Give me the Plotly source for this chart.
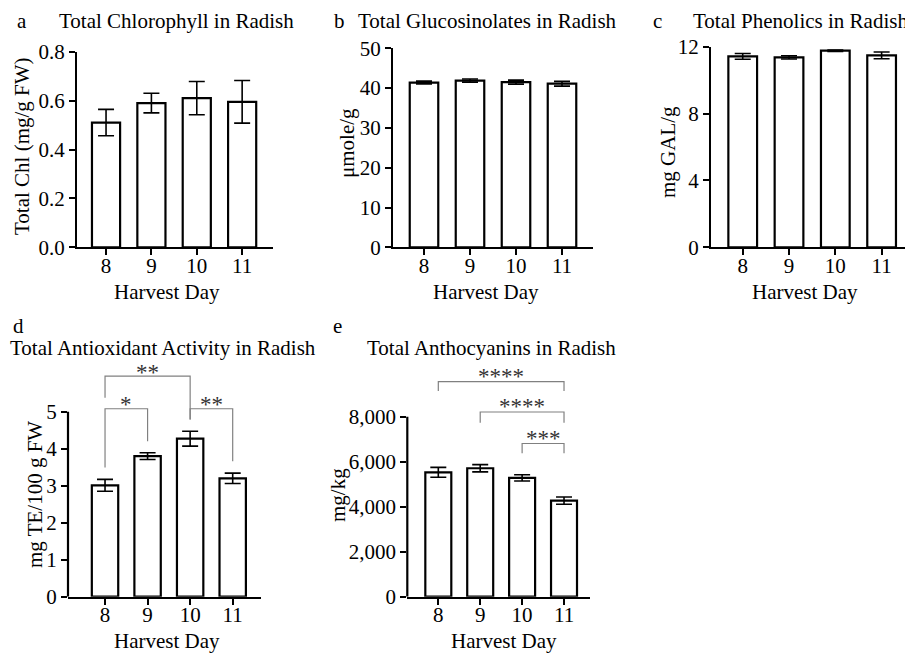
import plotly.graph_objects as go

# ---------------- data ----------------
days = ["8", "9", "10", "11"]
xpos = [0, 1, 2, 3]

chl = [0.51, 0.59, 0.61, 0.595]
chl_err = [0.054, 0.04, 0.068, 0.087]

gluc = [41.4, 41.9, 41.5, 41.1]
gluc_err = [0.35, 0.4, 0.5, 0.6]

phen = [11.42, 11.36, 11.76, 11.48]
phen_err = [0.17, 0.1, 0.04, 0.2]

antiox = [3.01, 3.80, 4.27, 3.20]
antiox_err = [0.16, 0.09, 0.2, 0.14]

antho = [5530, 5710, 5280, 4270]
antho_err = [220, 160, 140, 160]

antiox_sig = [(0, 2, "**"), (0, 1, "*"), (2, 3, "**")]
antho_sig = [(0, 3, "****"), (1, 3, "****"), (2, 3, "***")]

# ---------------- layout helpers ----------------
W, H = 905, 654
FONT = "Liberation Serif"
FS = 21


def px(x):
    return x / W


def py(y):
    return 1 - y / H


panels = [
    dict(v=chl, e=chl_err, xd=(77, 273), xr=(-0.64, 3.68), yd=(51.7, 247.3), yr=(0, 0.8),
         yt=[0, 0.2, 0.4, 0.6, 0.8], fmt=".1f", line=True),
    dict(v=gluc, e=gluc_err, xd=(393, 593), xr=(-0.674, 3.674), yd=(48.3, 247.3), yr=(0, 50),
         yt=[0, 10, 20, 30, 40, 50], fmt="d", line=True),
    dict(v=phen, e=phen_err, xd=(711, 905), xr=(-0.685, 3.505), yd=(46.7, 247.3), yr=(0, 12),
         yt=[0, 4, 8, 12], fmt="d", line=True),
    dict(v=antiox, e=antiox_err, xd=(68, 261), xr=(-0.87, 3.665), yd=(367.3, 596.7), yr=(0, 6.2),
         yt=[0, 1, 2, 3, 4, 5], fmt="d", line=False),
    dict(v=antho, e=antho_err, xd=(407.3, 590), xr=(-0.74, 3.62), yd=(371.7, 596.7), yr=(0, 10000),
         yt=[0, 2000, 4000, 6000, 8000], fmt=",", line=False),
]

fig = go.Figure()
layout = dict(
    width=W, height=H, autosize=False,
    margin=dict(l=0, r=0, t=0, b=0, pad=0, autoexpand=False),
    paper_bgcolor="white", plot_bgcolor="white",
    showlegend=False,
    font=dict(family=FONT, size=FS, color="black"),
)
shapes = []

for i, p in enumerate(panels):
    n = "" if i == 0 else str(i + 1)
    fig.add_trace(go.Bar(
        x=xpos, y=p["v"], width=0.62,
        marker=dict(color="white", line=dict(color="black", width=2.2)),
        error_y=dict(type="data", array=p["e"], color="black", thickness=1.6, width=8),
        xaxis="x" + n, yaxis="y" + n,
    ))
    layout["xaxis" + n] = dict(
        domain=[px(p["xd"][0]), min(px(p["xd"][1]), 1)], range=list(p["xr"]),
        anchor="y" + n, tickvals=xpos, ticktext=days, ticks="outside", ticklen=6,
        tickwidth=2, tickcolor="black", showline=True, linewidth=2.2, linecolor="black",
        showgrid=False, zeroline=False, tickfont=dict(family=FONT, size=FS, color="black"),
        ticklabelstandoff=-8, automargin=False, fixedrange=True,
    )
    layout["yaxis" + n] = dict(
        domain=[py(p["yd"][1]), py(p["yd"][0])], range=list(p["yr"]),
        anchor="x" + n, tickvals=p["yt"], tickformat=p["fmt"], ticks="outside", ticklen=6,
        tickwidth=2, tickcolor="black", showline=p["line"], linewidth=2.2, linecolor="black",
        showgrid=False, zeroline=False, tickfont=dict(family=FONT, size=FS, color="black"),
        automargin=False, fixedrange=True,
    )
    if not p["line"]:
        shapes.append(dict(type="line", xref="x" + n + " domain", yref="y" + n,
                           x0=0, x1=0, y0=0, y1=p["yt"][-1],
                           line=dict(color="black", width=2.2)))

annotations = []


def add_brackets(sig, n, geom, tshift):
    for (a, b, lab), (lvl, lb, rb) in zip(sig, geom):
        shapes.append(dict(type="path", xref="x" + n, yref="y" + n,
                           path=f"M {a},{lb} L {a},{lvl} L {b},{lvl} L {b},{rb}",
                           line=dict(color="#808080", width=1.2)))
        annotations.append(dict(x=(a + b) / 2, y=lvl, xref="x" + n, yref="y" + n, text=lab,
                                showarrow=False, xanchor="center", yanchor="middle", yshift=tshift,
                                font=dict(family=FONT, size=23, color="#333333")))


add_brackets(antiox_sig, "4", [(5.96, 5.38, 4.79), (5.08, 3.49, 4.2), (5.08, 4.79, 3.66)], 4)
add_brackets(antho_sig, "5", [(9556, 9142, 9142), (8209, 7733, 7733), (6809, 6373, 6373)], 5)


def ann(text, x, y, xanchor="left", angle=0, size=FS):
    annotations.append(dict(text=text, x=px(x), y=py(y), xref="paper", yref="paper",
                            showarrow=False, xanchor=xanchor, yanchor="middle", textangle=angle,
                            font=dict(family=FONT, size=size, color="black")))


ann("a", 15, 21)
ann("Total Chlorophyll in Radish", 57, 21)
ann("b", 332, 21)
ann("Total Glucosinolates in Radish", 356, 21)
ann("c", 651, 21)
ann("Total Phenolics in Radish", 691, 21)
ann("d", 11, 326)
ann("Total Antioxidant Activity in Radish", 8, 348)
ann("e", 331, 326)
ann("Total Anthocyanins in Radish", 365, 348)

ann("Harvest Day", 167, 292, "center")
ann("Harvest Day", 486, 292, "center")
ann("Harvest Day", 805, 292, "center")
ann("Harvest Day", 167, 641, "center")
ann("Harvest Day", 504, 641, "center")

ann("Total Chl (mg/g FW)", 22, 146, "center", -90)
ann("\u03bcmole/g", 347, 143, "center", -90)
ann("mg GAL/g", 668, 152, "center", -90)
ann("mg TE/100 g FW", 35, 495, "center", -90)
ann("mg/kg", 338, 495, "center", -90)

layout["shapes"] = shapes
layout["annotations"] = annotations
fig.update_layout(**layout)
fig.write_html("out.html", config={"displayModeBar": False})
